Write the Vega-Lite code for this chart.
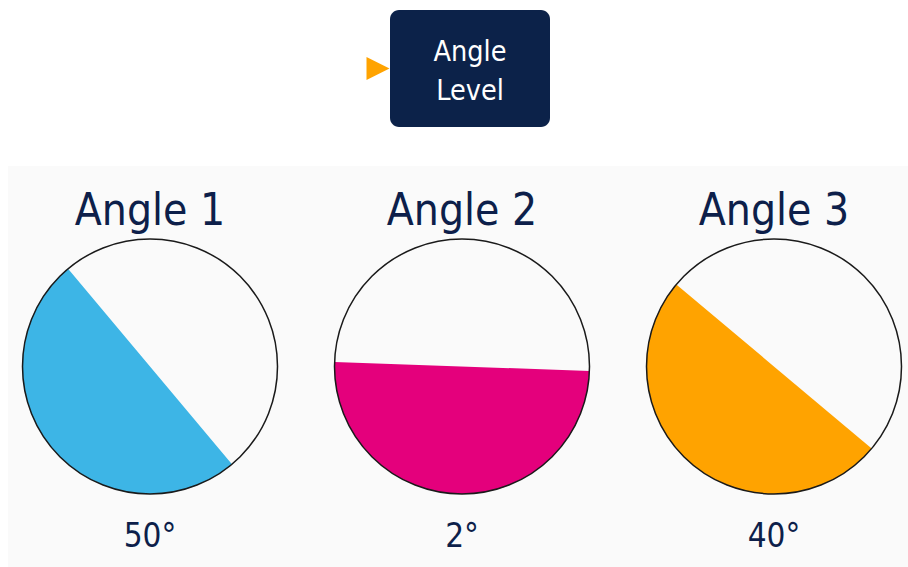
{
  "$schema": "https://vega.github.io/schema/vega-lite/v6.json",
  "background": "#ffffff",
  "padding": {"left": 8, "top": 10, "right": 0, "bottom": 0},
  "config": {
    "view": {"stroke": null},
    "text": {"font": "DejaVu Sans Condensed, DejaVu Sans, sans-serif"}
  },
  "datasets": {
    "angles": [
      {"name": "Angle 1", "angle": 50, "label": "50°"},
      {"name": "Angle 2", "angle": 2, "label": "2°"},
      {"name": "Angle 3", "angle": 40, "label": "40°"}
    ],
    "heading": [{"title": "Angle Level"}]
  },
  "vconcat": [
    {
      "hconcat": [
        {
          "width": 24,
          "height": 117,
          "data": {"name": "heading"},
          "mark": {"type": "point", "shape": "M-1,-1L1,0L-1,1Z", "size": 529, "filled": true, "fill": "#ffa300", "opacity": 1, "strokeWidth": 0},
          "encoding": {}
        },
        {
          "width": 160,
          "height": 117,
          "view": {"fill": "#0c2249", "cornerRadius": 9, "stroke": null},
          "data": {"name": "heading"},
          "mark": {"type": "text", "lineBreak": " ", "fontSize": 28.5, "lineHeight": 39, "color": "#ffffff", "align": "center", "baseline": "middle", "dy": -16.5},
          "encoding": {"text": {"field": "title", "type": "nominal"}}
        }
      ],
      "spacing": 0
    },
    {
      "width": 900,
      "height": 401,
      "view": {"fill": "#fafafa", "stroke": null},
      "data": {"name": "angles"},
      "encoding": {
        "x": {"field": "name", "type": "nominal", "scale": {"type": "point", "range": [142, 766], "padding": 0}, "axis": null}
      },
      "layer": [
        {
          "mark": {"type": "point", "shape": "M-1,0A1,1 0 0 0 1,0Z", "size": 65025, "filled": true, "opacity": 1, "strokeWidth": 0},
          "encoding": {
            "color": {"field": "name", "type": "nominal", "scale": {"domain": ["Angle 1", "Angle 2", "Angle 3"], "range": ["#3db5e6", "#e4007c", "#ffa300"]}, "legend": null},
            "angle": {"field": "angle", "type": "quantitative", "scale": {"domain": [0, 360], "range": [0, 360]}}
          }
        },
        {
          "mark": {"type": "point", "shape": "circle", "size": 65025, "filled": false, "stroke": "#1a1a1a", "strokeWidth": 1.5, "opacity": 1}
        },
        {
          "mark": {"type": "text", "fontSize": 44, "color": "#0d1f4a", "align": "center", "baseline": "alphabetic", "dy": -141.5},
          "encoding": {"text": {"field": "name", "type": "nominal"}}
        },
        {
          "mark": {"type": "text", "fontSize": 33, "color": "#0d1f4a", "align": "center", "baseline": "alphabetic", "dy": 180.5},
          "encoding": {"text": {"field": "label", "type": "nominal"}}
        }
      ]
    }
  ],
  "spacing": 39,
  "center": true
}
